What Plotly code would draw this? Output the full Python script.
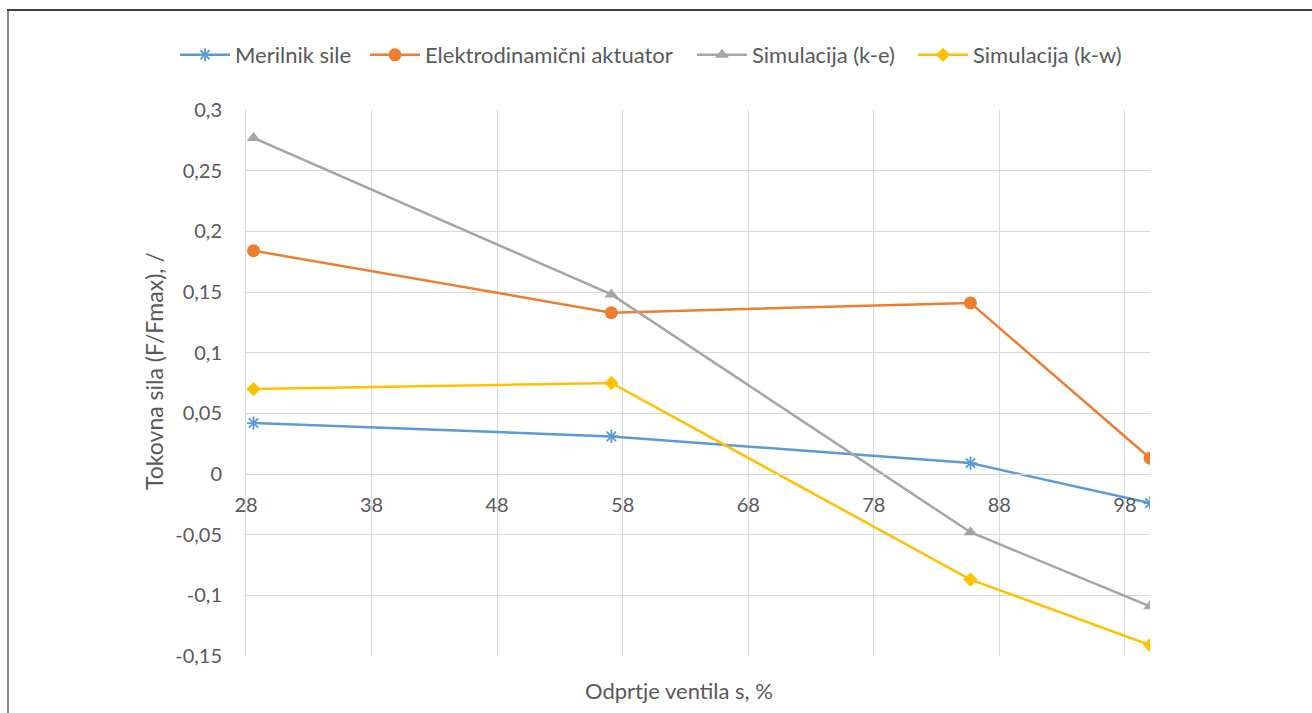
import plotly.graph_objects as go

# Valve opening (%) at which the force was evaluated
odprtje = [28.6, 57.1, 85.7, 100.0]

# Normalised flow force F/Fmax for each method
merilnik_sile = [0.042, 0.031, 0.009, -0.024]
elektrodinamicni_aktuator = [0.184, 0.133, 0.141, 0.013]
simulacija_ke = [0.277, 0.148, -0.048, -0.109]
simulacija_kw = [0.070, 0.075, -0.087, -0.141]

serije = [
    ("Merilnik sile", merilnik_sile),
    ("Elektrodinamični aktuator", elektrodinamicni_aktuator),
    ("Simulacija (k-e)", simulacija_ke),
    ("Simulacija (k-w)", simulacija_kw),
]

# Axis ticks
x_tick_vals = [28, 38, 48, 58, 68, 78, 88, 98]
x_tick_text = ["28", "38", "48", "58", "68", "78", "88", "98"]
y_tick_vals = [-0.15, -0.1, -0.05, 0, 0.05, 0.1, 0.15, 0.2, 0.25, 0.3]
y_tick_text = ["-0,15", "-0,1", "-0,05", "0", "0,05", "0,1", "0,15", "0,2", "0,25", "0,3"]

barve = ["#5B9BD5", "#ED7D31", "#A5A5A5", "#FFC000"]
oznake = [
    dict(symbol="asterisk-open", size=11, line=dict(width=1.8, color="#5B9BD5")),
    dict(symbol="circle", size=13),
    dict(symbol="triangle-up", size=12),
    dict(symbol="diamond", size=11),
]

FONT = "Lato, 'Open Sans', sans-serif"
TXT = "#595959"
GRID = "#D9D9D9"

W, H = 1312, 713
L, R, T, B = 246, 1150, 110, 656

def px(x):
    return (x - L) / (R - L)

def py(y):
    return (B - y) / (B - T)

# one single-entry legend per series so each entry sits at its own x
legend_ids = ["legend", "legend2", "legend3", "legend4"]
legend_x = [175, 365, 692, 913]

fig = go.Figure()
for (ime, vrednosti), barva, ozn, lid in zip(serije, barve, oznake, legend_ids):
    m = dict(color=barva, **ozn)
    fig.add_trace(go.Scatter(
        x=odprtje, y=vrednosti, name=ime, mode="lines+markers",
        line=dict(color=barva, width=2.5), marker=m, legend=lid,
    ))

legend_style = dict(
    orientation="h", yanchor="middle", xanchor="left", y=py(55),
    font=dict(size=22, color=TXT), bgcolor="rgba(0,0,0,0)",
    itemwidth=50, tracegroupgap=0,
)
legends = {lid: dict(x=px(lx), **legend_style) for lid, lx in zip(legend_ids, legend_x)}

fig.update_layout(
    width=W, height=H,
    margin=dict(l=L, r=W - R, t=T, b=H - B),
    paper_bgcolor="white", plot_bgcolor="white",
    font=dict(family=FONT, color=TXT, size=20),
    separators=", ",
    showlegend=True,
    xaxis=dict(
        range=[28, 100], tickvals=x_tick_vals, ticktext=x_tick_text,
        showgrid=True, gridcolor=GRID, gridwidth=1,
        zeroline=False, showline=True, linecolor=GRID, linewidth=1,
        anchor="free", position=1/3, ticks="", ticklabelstandoff=13,
        tickfont=dict(size=20, color=TXT),
    ),
    yaxis=dict(
        range=[-0.15, 0.3], tickvals=y_tick_vals, ticktext=y_tick_text,
        showgrid=True, gridcolor=GRID, gridwidth=1,
        zeroline=False, showline=True, linecolor=GRID, linewidth=1,
        ticks="", ticklabelstandoff=19,
        tickfont=dict(size=20, color=TXT),
    ),
    annotations=[
        dict(text="Odprtje ventila s, %", x=px(679), y=py(690), xref="paper", yref="paper",
             xanchor="center", yanchor="middle",
             showarrow=False, font=dict(size=22, color=TXT)),
        dict(text="Tokovna sila (F/Fmax), /", x=px(154), y=py(371), xref="paper", yref="paper",
             xanchor="center", yanchor="middle",
             showarrow=False, textangle=-90, font=dict(size=23, color=TXT)),
    ],
    shapes=[
        dict(type="line", xref="paper", yref="paper", x0=px(8), x1=px(8), y0=py(10), y1=py(713),
             line=dict(color="#8A8A8A", width=2)),
        dict(type="line", xref="paper", yref="paper", x0=px(7), x1=px(1312), y0=py(10), y1=py(10),
             line=dict(color="#404040", width=2)),
    ],
    **legends,
)

fig.write_html("out.html")
